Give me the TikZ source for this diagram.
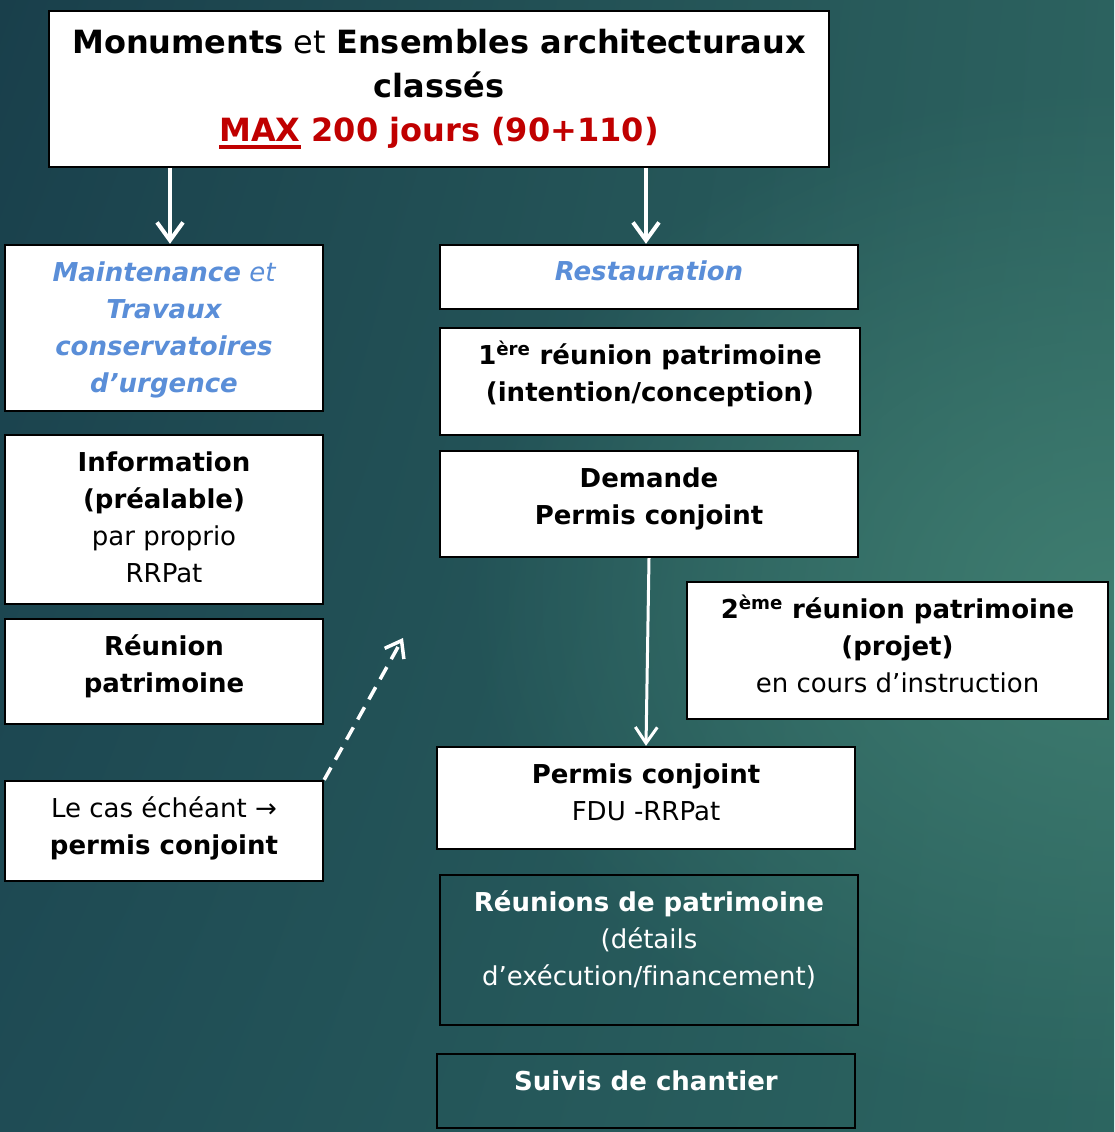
\documentclass[tikz,border=0pt]{standalone}
\usepackage{fontspec}
\setmainfont[Ligatures=NoCommon]{DejaVu Sans}
\usetikzlibrary{arrows.meta,fadings,shadings}
\definecolor{bgUL}{HTML}{193F4B}
\definecolor{bgUR}{HTML}{2C625F}
\definecolor{bgLL}{HTML}{1F4C55}
\definecolor{bgLR}{HTML}{2C6560}
\definecolor{glowc}{HTML}{3F7D70}
\definecolor{bluet}{HTML}{5A8ED8}
\definecolor{redt}{HTML}{C00000}
\tikzfading[name=glowfade, inner color=transparent!0, outer color=transparent!100]
\newcommand\myul[1]{\setbox0\hbox{#1}\rlap{\rule[-7pt]{\wd0}{3.5pt}}\box0\relax}
\begin{document}
\begin{tikzpicture}[x=1pt,y=-1pt,
  box/.style={draw=black, line width=2.4pt, fill=white, inner sep=0pt},
  dbox/.style={draw=black, line width=2.4pt, inner sep=0pt},
  tx/.style={anchor=base, inner sep=0pt, font=\fontsize{26}{37}\selectfont},
  ttl/.style={anchor=base, inner sep=0pt, font=\fontsize{32}{44}\selectfont},
  warrow/.style={draw=white, line width=4pt, -{Straight Barb[length=18pt,width=26pt]}},
  marrow/.style={draw=white, line width=3pt, -{Straight Barb[length=16pt,width=22pt]}},
  darrow/.style={draw=white, line width=3.5pt, dash pattern=on 14pt off 9pt, -{Straight Barb[length=15pt,width=22pt]}}
]
% background
\useasboundingbox (0,0) rectangle (1114,1132);
\shade[upper left=bgUL, upper right=bgUR, lower left=bgLL, lower right=bgLR] (0,0) rectangle (1114,1132);
\begin{scope}
\clip (0,0) rectangle (1114,1132);
\fill[glowc, path fading=glowfade] (1114,600) ellipse (650pt and 520pt);
\end{scope}

% boxes
\node[box, minimum width=780pt, minimum height=156pt] (top) at (439,89) {};
\node[box, minimum width=318pt, minimum height=166pt] (maint) at (164,328) {};
\node[box, minimum width=418pt, minimum height=64pt] (rest) at (649,277) {};
\node[box, minimum width=420pt, minimum height=107pt] (prem) at (650,381.5) {};
\node[box, minimum width=418pt, minimum height=106pt] (dem) at (649,504) {};
\node[box, minimum width=421pt, minimum height=137pt] (deux) at (897.5,650.5) {};
\node[box, minimum width=418pt, minimum height=102pt] (permis) at (646,798) {};
\node[box, minimum width=318pt, minimum height=169pt] (info) at (164,519.5) {};
\node[box, minimum width=318pt, minimum height=105pt] (reun) at (164,671.5) {};
\node[box, minimum width=318pt, minimum height=100pt] (cas) at (164,831) {};
\node[dbox, minimum width=418pt, minimum height=150pt] (reuns) at (649,950) {};
\node[dbox, minimum width=418pt, minimum height=74pt] (suivis) at (646,1091) {};

% texts
\node[ttl] (top-t) at ([yshift=-44pt]top.north) {\parbox[t]{770pt}{\centering
  \textbf{Monuments} et \textbf{Ensembles architecturaux}\\
  \textbf{classés}\\
  \color{redt}\textbf{\myul{MAX} 200 jours (90+110)}}};
\node[tx, text=bluet] (maint-t) at ([yshift=-38pt]maint.north) {\parbox[t]{310pt}{\centering\itshape
  \textbf{Maintenance} et\\ \textbf{Travaux}\\ \textbf{conservatoires}\\ \textbf{d’urgence}}};
\node[tx, text=bluet] (rest-t) at ([yshift=-37pt]rest.north) {\parbox[t]{410pt}{\centering\itshape\bfseries Restauration}};
\node[tx] (prem-t) at ([yshift=-38pt]prem.north) {\parbox[t]{412pt}{\centering\bfseries
  1\textsuperscript{ère} réunion patrimoine\\ (intention/conception)}};
\node[tx] (dem-t) at ([yshift=-38pt]dem.north) {\parbox[t]{410pt}{\centering\bfseries
  Demande\\ Permis conjoint}};
\node[tx] (deux-t) at ([yshift=-38pt]deux.north) {\parbox[t]{413pt}{\centering
  \textbf{2\textsuperscript{ème} réunion patrimoine}\\ \textbf{(projet)}\\ en cours d’instruction}};
\node[tx] (permis-t) at ([yshift=-38pt]permis.north) {\parbox[t]{410pt}{\centering
  \textbf{Permis conjoint}\\ FDU -RRPat}};
\node[tx] (info-t) at ([yshift=-38pt]info.north) {\parbox[t]{310pt}{\centering
  \textbf{Information}\\ \textbf{(préalable)}\\ par proprio\\ RRPat}};
\node[tx] (reun-t) at ([yshift=-38pt]reun.north) {\parbox[t]{310pt}{\centering\bfseries
  Réunion\\ patrimoine}};
\node[tx] (cas-t) at ([yshift=-38pt]cas.north) {\parbox[t]{310pt}{\centering
  Le cas échéant →\\ \textbf{permis conjoint}}};
\node[tx, text=white] (reuns-t) at ([yshift=-38pt]reuns.north) {\parbox[t]{410pt}{\centering
  \textbf{Réunions de patrimoine}\\ (détails\\ d’exécution/financement)}};
\node[tx, text=white] (suivis-t) at ([yshift=-38pt]suivis.north) {\parbox[t]{410pt}{\centering\bfseries
  Suivis de chantier}};

% connectors
\coordinate (dashend) at (403,638);
\draw[warrow] ([xshift=-269pt]top.south) -- ([xshift=6pt]maint.north);
\draw[warrow] ([xshift=207pt]top.south) -- ([xshift=-3pt]rest.north);
\draw[marrow] (dem.south) -- (permis.north);
\draw[darrow] (cas.north east) -- (dashend);
\end{tikzpicture}
\end{document}
